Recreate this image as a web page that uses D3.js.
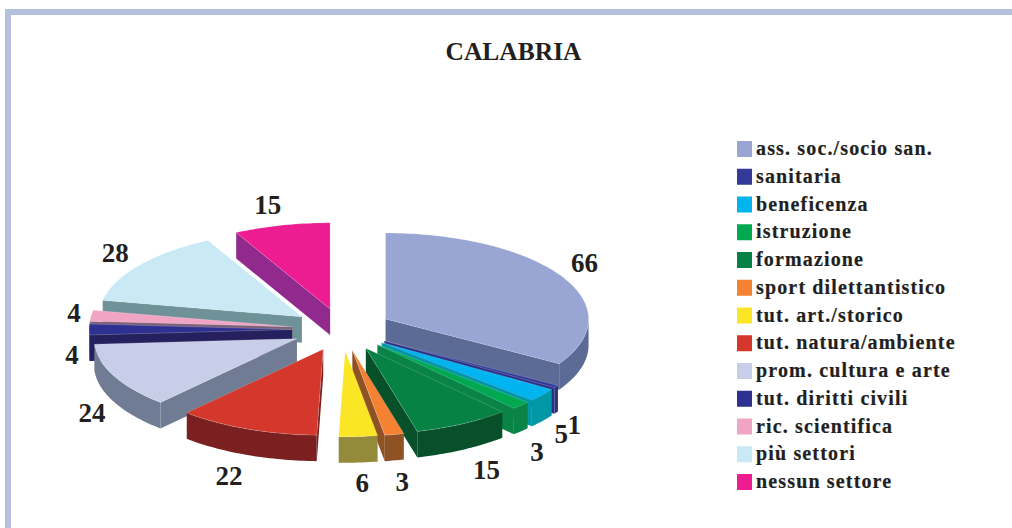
<!DOCTYPE html>
<html><head><meta charset="utf-8">
<script src="https://cdn.jsdelivr.net/npm/d3@7"></script>
<style>html,body{margin:0;padding:0;background:#fff}svg{display:block}</style>
</head><body><svg id="c" width="1012" height="528"></svg>
<script>
const title = "CALABRIA";
const categories = ["ass. soc./socio san.","sanitaria","beneficenza","istruzione","formazione","sport dilettantistico","tut. art./storico","tut. natura/ambiente","prom. cultura e arte","tut. diritti civili","ric. scientifica","più settori","nessun settore"];
const values = [66,1,5,3,15,3,6,22,24,4,4,28,15];
const topColors = ["#99a5d3","#333a9a","#00b5ef","#00a94f","#068244","#f58233","#fbe625","#d4382c","#c8cde8","#2e3192","#f1a5c4","#c9e9f5","#ed1c91"];
const sideColors = ["#5b6b95","#2a2f80","#0097a7","#0a8347","#07502a","#8f5224","#938b3a","#7a2020","#6f7c94","#25215e","#7b6078","#6f9299","#92298c"];
const labelNudgeX = [22,18,19,16,24,8,4,-18,-22,-17,-17,-24,-14];
const labelNudgeY = [-14,38,39,46,46,47,46,47,37,25,-3,-13,-20];

const W=1012,H=528, cx=342, cy=329.5, R=203, tilt=0.424, depth=26, explode=50;
const serif = '"Liberation Serif","DejaVu Serif",serif';
const svg = d3.select("#c");

// frame
const frame = d3.path();
frame.moveTo(8,H); frame.lineTo(8,12); frame.lineTo(W,12);
svg.append("path").attr("d",frame.toString()).attr("fill","none").attr("stroke","#b5c0de").attr("stroke-width",6);

svg.append("text").text(title).attr("x",513.5).attr("y",60).attr("text-anchor","middle")
  .attr("font-family",serif).attr("font-weight","bold").attr("font-size",25.5).attr("fill","#231f20");

const pie = d3.pie().sort(null).value(d=>d)(values);
const pt = (a,r)=>[r*Math.sin(a), -r*Math.cos(a)*tilt];
const slices = pie.map((p,i)=>{
  const mid=(p.startAngle+p.endAngle)/2, e=pt(mid,explode);
  return {i,a0:p.startAngle,a1:p.endAngle,mid,ax:cx+e[0],ay:cy+e[1]};
});
const line = d3.line();
const order = slices.slice().sort((s,t)=>Math.cos(t.mid)-Math.cos(s.mid));
const rimPts = (s,from,to)=>{const n=Math.max(2,Math.ceil((to-from)/0.02)+1);
  return d3.range(n).map(k=>{const a=from+(to-from)*k/(n-1),q=pt(a,R);return [s.ax+q[0],s.ay+q[1]];});};

order.forEach(s=>{
  const g=svg.append("g").attr("class","slice");
  const side=sideColors[s.i];
  const wall=(a)=>{const q=pt(a,R);const o=[s.ax,s.ay],r=[s.ax+q[0],s.ay+q[1]];
    g.append("path").attr("d",line([o,r,[r[0],r[1]+depth],[o[0],o[1]+depth]])+"Z").attr("fill",side);};
  if(Math.sin(s.a0)<0) wall(s.a0);
  if(Math.sin(s.a1)>0) wall(s.a1);
  const from=Math.max(s.a0,Math.PI/2), to=Math.min(s.a1,Math.PI*1.5);
  if(to>from){
    const top=rimPts(s,from,to), bot=top.map(d=>[d[0],d[1]+depth]).reverse();
    g.append("path").attr("d",line(top.concat(bot))+"Z").attr("fill",side);
  }
  const rim=rimPts(s,s.a0,s.a1);
  g.append("path").attr("d",line([[s.ax,s.ay],...rim])+"Z").attr("fill",topColors[s.i])
    .attr("stroke","#fff").attr("stroke-opacity",.35).attr("stroke-width",.5);
});

slices.forEach(s=>{
  const q=pt(s.mid,R);
  svg.append("text").text(values[s.i])
    .attr("x",s.ax+q[0]+labelNudgeX[s.i]).attr("y",s.ay+q[1]+labelNudgeY[s.i]).attr("dy","0.34em")
    .attr("text-anchor","middle").attr("font-family",serif).attr("font-weight","bold")
    .attr("font-size",27).attr("fill","#231f20");
});

const legendY = d3.scalePoint().domain(d3.range(categories.length)).range([149,482]);
categories.forEach((c,i)=>{
  svg.append("rect").attr("x",737).attr("y",legendY(i)-8).attr("width",15).attr("height",16).attr("fill",topColors[i]);
  svg.append("text").text(c).attr("x",756).attr("y",legendY(i)+6)
    .attr("font-family",serif).attr("font-weight","bold").attr("font-size",20)
    .attr("letter-spacing",1.15).attr("stroke","#231f20").attr("stroke-width",.2).attr("fill","#231f20");
});
</script></body></html>
